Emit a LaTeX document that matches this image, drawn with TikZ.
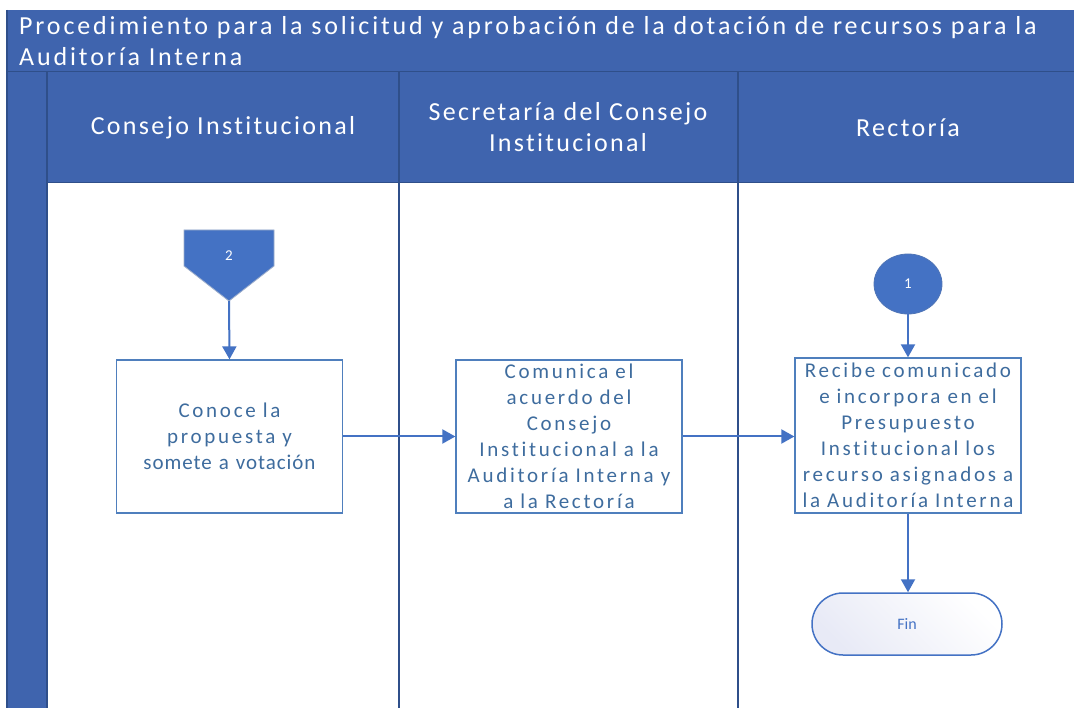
\documentclass[tikz,border=0pt]{standalone}
\usepackage{fontspec}
\setmainfont{Carlito}
\newfontfamily\titlefont{Carlito}[LetterSpace=11,Ligatures=NoCommon]
\newfontfamily\hdrfont{Carlito}[LetterSpace=9,Ligatures=NoCommon]
\newfontfamily\boxfont{Carlito}[LetterSpace=13,Ligatures=NoCommon]
\newfontfamily\tightfont{Carlito}[LetterSpace=4.5,Ligatures=NoCommon]
\usetikzlibrary{arrows.meta,shapes.geometric,shapes.misc}
\definecolor{hdr}{HTML}{3F64AE}
\definecolor{navy}{HTML}{2F4F8A}
\definecolor{acc}{HTML}{4472C4}
\definecolor{boxln}{HTML}{4F7FBD}
\definecolor{boxtx}{HTML}{3E6C9E}
\definecolor{fin1}{HTML}{E8EAF6}
\tikzset{
  lane/.style={draw=navy,line width=1.2pt},
  proc/.style={draw=boxln,line width=1.3pt,fill=white,minimum width=226pt,minimum height=153pt,
    text width=224pt,align=center,text=boxtx,font=\boxfont\fontsize{21}{26}\selectfont,inner sep=0pt},
  flow/.style={draw=acc,line width=2pt,-{Triangle[length=13pt,width=14pt]}},
  hdrtxt/.style={text=white,align=center,font=\hdrfont\fontsize{26}{31}\selectfont}
}
\begin{document}
\begin{tikzpicture}[x=1pt,y=-1pt]
\useasboundingbox (0,0) rectangle (1074,708);
\fill[white] (0,0) rectangle (1074,708);
% title band
\fill[hdr] (7,10) rectangle (1074,72);
\draw[navy,line width=1.2pt] (7,72) -- (1074,72);
\node[anchor=west,text=white,align=left,inner sep=0pt,font=\titlefont\fontsize{26}{31}\selectfont] (title) at (19,41.5)
  {Procedimiento para la solicitud y aprobación de la dotación de recursos para la\\Auditoría Interna};
% header band and strip
\fill[hdr] (7,72) rectangle (1074,183);
\fill[hdr] (7,72) rectangle (47,708);
\draw[lane] (7,10) -- (7,708);
\draw[lane] (47,72) -- (47,708);
\draw[lane] (399,72) -- (399,708);
\draw[lane] (738,72) -- (738,708);
\draw[navy,line width=1pt] (47,183) -- (1074,183);
\node[hdrtxt] (h1) at (223,128) {Consejo Institucional};
\node[hdrtxt] (h2) at (568,127.5) {Secretaría del Consejo\\Institucional};
\node[hdrtxt] (h3) at (908,128) {Rectoría};
% off-page connector
\filldraw[fill=acc,draw=acc!60!gray!60,line width=0.8pt] (184,230) -- (274,230) -- (274,266) -- (229,301) -- (184,266) -- cycle;
\coordinate (op) at (229,301);
\node[text=white,font=\fontsize{15}{17}\selectfont] (n2) at (229,256) {2};
% circle connector
\node[ellipse,fill=acc,draw=acc!80!gray,line width=0.8pt,minimum width=68pt,minimum height=60pt,inner sep=0pt,
  text=white,font=\fontsize{15}{17}\selectfont] (c1) at (908,284) {1};
% process boxes
\node[proc] (b1) at (229.5,436.5) {Conoce la\\propuesta y\\{\tightfont somete a votación}};
\node[proc] (b2) at (569,436.5) {Comunica el\\acuerdo del\\Consejo\\Institucional a la\\Auditoría Interna y\\a la Rectoría};
\node[proc,minimum height=155pt] (b3) at (908,435.5) {Recibe comunicado\\e incorpora en el\\Presupuesto\\Institucional los\\recurso asignados a\\la Auditoría Interna};
% terminator
\node[rounded rectangle,draw=acc,line width=1.5pt,left color=fin1,right color=white,shading angle=135,
  minimum width=190pt,minimum height=62pt,inner sep=0pt,text=acc,font=\fontsize{16}{18}\selectfont] (fin) at (907,624) {Fin};
% flows
\draw[flow] (op) -- (b1.north);
\draw[flow] (b1.east) -- (b2.west);
\draw[flow] (b2.east) -- (b2.east -| b3.west);
\draw[flow] (c1.south) -- (b3.north);
\draw[flow] (b3.south) -- (b3.south |- fin.north);
\end{tikzpicture}
\end{document}
